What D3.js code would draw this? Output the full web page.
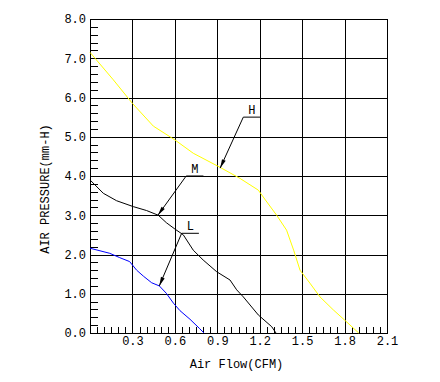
<!DOCTYPE html>
<html><head><meta charset="utf-8">
<script src="https://cdn.jsdelivr.net/npm/d3@7"></script>
<style>body{margin:0;background:#fff}svg{display:block}text{font-family:"Liberation Mono","DejaVu Sans Mono",monospace;font-size:12px;fill:#000}</style>
</head><body>
<script>
const xTicks = [0.3, 0.6, 0.9, 1.2, 1.5, 1.8, 2.1];
const yTicks = [0, 1, 2, 3, 4, 5, 6, 7, 8];
const xTitle = "Air Flow(CFM)";
const yTitle = "AIR PRESSURE(mm-H)";

const flowH = [0, 0.165, 0.3, 0.448, 0.6, 0.73, 0.92, 1.06, 1.19, 1.24, 1.32, 1.39, 1.44, 1.485, 1.555, 1.626, 1.72, 1.80, 1.90];
const pressH = [7.15, 6.45, 5.85, 5.27, 4.92, 4.58, 4.22, 3.94, 3.64, 3.39, 3.0, 2.62, 2.11, 1.6, 1.27, 0.92, 0.59, 0.33, 0];
const flowM = [0, 0.094, 0.188, 0.306, 0.40, 0.483, 0.54, 0.60, 0.66, 0.73, 0.80, 0.896, 0.99, 1.037, 1.084, 1.19, 1.285, 1.315];
const pressM = [3.9, 3.56, 3.37, 3.22, 3.12, 3.0, 2.81, 2.65, 2.5, 2.11, 1.86, 1.56, 1.35, 1.10, 0.92, 0.46, 0.16, 0];
const flowL = [0, 0.14, 0.21, 0.28, 0.33, 0.377, 0.436, 0.49, 0.54, 0.59, 0.636, 0.707, 0.773, 0.806];
const pressL = [2.16, 2.03, 1.92, 1.82, 1.6, 1.45, 1.28, 1.2, 1.01, 0.76, 0.57, 0.35, 0.12, 0];

const seriesNames = ["H", "M", "L"];
const seriesColors = ["#ffff00", "#000000", "#0000ff"];
// annotation: underline start (flow, pressure) and arrow target (flow, pressure)
const annoFromFlow = [1.084, 0.68, 0.648];
const annoFromPress = [5.5, 4.0, 2.54];
const annoToFlow = [0.92, 0.48, 0.49];
const annoToPress = [4.2, 3.0, 1.2];
const annoLen = 0.122;

const W = 440, H = 382;
const pLeft = 90, pRight = 387, pTop = 19, pBottom = 333;
const x = d3.scaleLinear().domain([0, 2.1]).range([pLeft, pRight]);
const y = d3.scaleLinear().domain([0, 8]).range([pBottom, pTop]);

const svg = d3.select("body").append("svg").attr("width", W).attr("height", H);
svg.append("rect").attr("width", W).attr("height", H).attr("fill", "#fff");

const grid = svg.append("g").attr("stroke", "#000").attr("stroke-width", 1).attr("shape-rendering", "crispEdges");
grid.selectAll("line.v").data([0].concat(xTicks)).join("line").attr("class", "v")
  .attr("x1", d => Math.round(x(d)) + 0.5).attr("x2", d => Math.round(x(d)) + 0.5)
  .attr("y1", y(8)).attr("y2", y(0));
grid.selectAll("line.h").data(yTicks).join("line").attr("class", "h")
  .attr("x1", x(0)).attr("x2", x(2.1) + 1)
  .attr("y1", d => Math.round(y(d)) + 0.5).attr("y2", d => Math.round(y(d)) + 0.5);
const yMinor = d3.range(0, 8.001, 0.2).filter(v => Math.abs(v - Math.round(v)) > 1e-6);
grid.selectAll("line.ym").data(yMinor).join("line").attr("class", "ym")
  .attr("x1", x(0)).attr("x2", x(0) + 8)
  .attr("y1", d => Math.round(y(d)) + 0.5).attr("y2", d => Math.round(y(d)) + 0.5);
const xMinor = d3.range(0, 2.1001, 0.05).filter(v => Math.abs(v / 0.3 - Math.round(v / 0.3)) > 1e-6);
grid.selectAll("line.xm").data(xMinor).join("line").attr("class", "xm")
  .attr("x1", d => Math.round(x(d)) + 0.5).attr("x2", d => Math.round(x(d)) + 0.5)
  .attr("y1", y(0)).attr("y2", y(0) - 6);

const yAxis = d3.axisLeft(y).tickValues(yTicks).tickFormat(d3.format(".1f")).tickSize(0).tickPadding(4);
const gy = svg.append("g").attr("transform", `translate(${pLeft},0)`).call(yAxis);
const xAxis = d3.axisBottom(x).tickValues(xTicks).tickFormat(d3.format(".1f")).tickSize(0).tickPadding(3);
const gx = svg.append("g").attr("transform", `translate(0,${pBottom})`).call(xAxis);
[gy, gx].forEach(g => { g.select(".domain").remove(); g.selectAll("text").style("font-family", "Liberation Mono").style("font-size", "12px"); });

svg.append("text").attr("x", (pLeft + pRight) / 2 - 2).attr("y", 368).attr("text-anchor", "middle").text(xTitle);
svg.append("text").attr("transform", `translate(49,${(pTop + pBottom) / 2 + 13}) rotate(-90)`).attr("text-anchor", "middle").text(yTitle);

const flows = [flowH, flowM, flowL];
const presses = [pressH, pressM, pressL];
const line = d3.line().x(d => x(d[0])).y(d => y(d[1]));
seriesNames.forEach((n, i) => {
  const pts = flows[i].map((f, j) => [f, presses[i][j]]);
  svg.append("path").datum(pts).attr("d", line).attr("fill", "none")
    .attr("stroke", seriesColors[i]).attr("stroke-width", 1);
});

seriesNames.forEach((n, i) => {
  const x0 = x(annoFromFlow[i]), y0 = y(annoFromPress[i]);
  const x1 = x(annoToFlow[i]), y1 = y(annoToPress[i]);
  const g = svg.append("g");
  g.append("line").attr("x1", x0).attr("y1", y0).attr("x2", x(annoFromFlow[i] + annoLen)).attr("y2", y0)
    .attr("stroke", "#000").attr("stroke-width", 1);
  g.append("line").attr("x1", x0).attr("y1", y0).attr("x2", x1).attr("y2", y1)
    .attr("stroke", "#000").attr("stroke-width", 1);
  const ang = Math.atan2(y1 - y0, x1 - x0);
  const L = 9, w = 2;
  const bx = x1 - L * Math.cos(ang), by = y1 - L * Math.sin(ang);
  const px = -Math.sin(ang) * w, py = Math.cos(ang) * w;
  g.append("path").attr("d", `M${x1},${y1}L${bx + px},${by + py}L${bx - px},${by - py}Z`).attr("fill", "#000");
  g.append("text").attr("x", x(annoFromFlow[i] + annoLen / 2)).attr("y", y0 - 3)
    .attr("text-anchor", "middle").text(n);
});
</script>
</body></html>
